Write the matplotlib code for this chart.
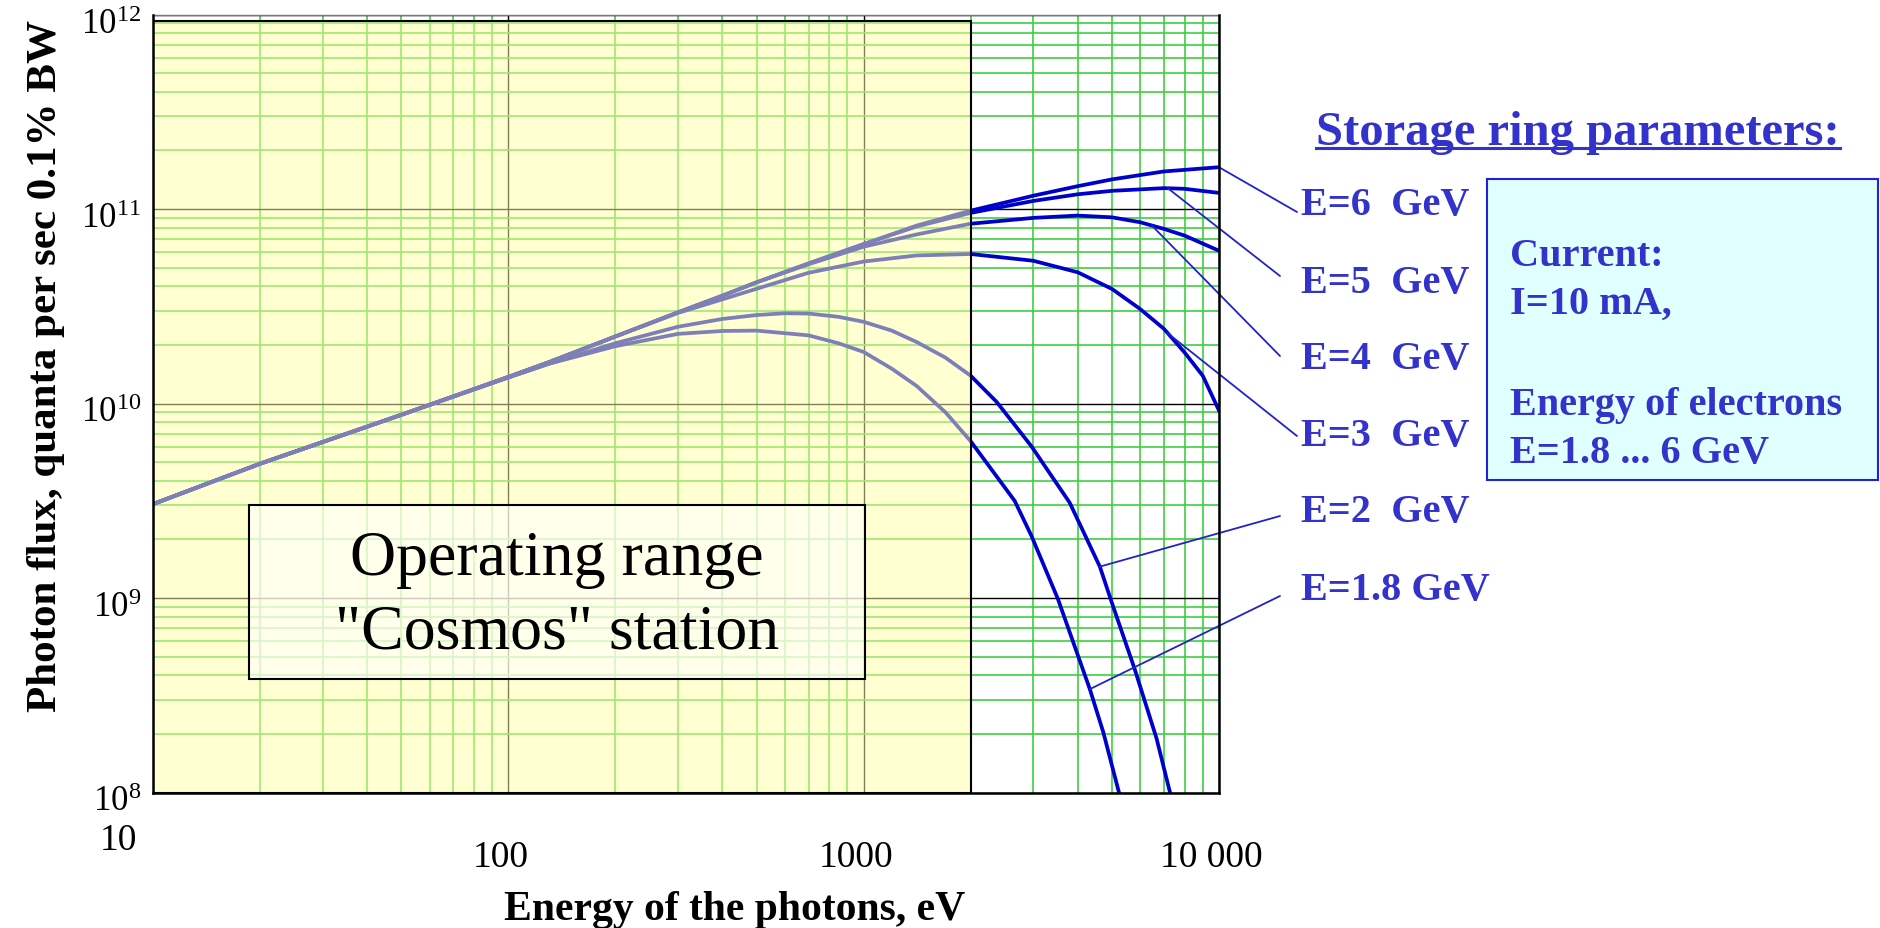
import numpy as np
import matplotlib
matplotlib.use('Agg')
import matplotlib.pyplot as plt
import matplotlib.transforms as mtransforms
from matplotlib.patches import Rectangle
from matplotlib.lines import Line2D
from matplotlib.ticker import LogLocator

plt.rcParams['font.family'] = ['Liberation Serif', 'DejaVu Serif']
plt.rcParams['mathtext.fontset'] = 'custom'
plt.rcParams['mathtext.rm'] = 'Liberation Serif'
plt.rcParams['mathtext.it'] = 'Liberation Serif:italic'
plt.rcParams['mathtext.bf'] = 'Liberation Serif:bold'

W, H = 1880, 929          # output size in pixels
CURVE_BLUE = '#0000CC'
TEXT_BLUE = '#3333CC'

# Photon energy (eV) and flux (quanta / s / 0.1% BW)
energy_6 = [10, 20, 50, 100, 130, 200, 300, 400, 500, 700, 1000, 1410, 2000, 3000, 4000, 5000, 7000, 10000]
flux_6 = [3.04e9, 4.9e9, 8.75e9, 1.37e10, 1.63e10, 2.21e10, 2.94e10, 3.58e10, 4.2e10, 5.25e10, 6.6e10,
          8.22e10, 9.8e10, 1.17e11, 1.31e11, 1.42e11, 1.56e11, 1.64e11]

energy_5 = [10, 20, 50, 100, 130, 200, 300, 400, 500, 700, 1000, 1410, 2000, 3000, 4000, 5000, 7000, 8000, 10000]
flux_5 = [3.04e9, 4.9e9, 8.75e9, 1.37e10, 1.63e10, 2.21e10, 2.94e10, 3.58e10, 4.2e10, 5.25e10, 6.6e10,
          8.13e10, 9.55e10, 1.10e11, 1.19e11, 1.24e11, 1.28e11, 1.27e11, 1.21e11]

energy_4 = [10, 20, 50, 100, 130, 200, 300, 400, 500, 700, 1000, 1410, 2000, 3000, 4000, 5000, 6000, 7000, 8000, 10000]
flux_4 = [3.04e9, 4.9e9, 8.75e9, 1.37e10, 1.63e10, 2.21e10, 2.94e10, 3.58e10, 4.2e10, 5.2e10, 6.4e10,
          7.4e10, 8.4e10, 9.0e10, 9.25e10, 9.06e10, 8.55e10, 7.9e10, 7.3e10, 6.1e10]

energy_3 = [10, 20, 50, 100, 130, 200, 300, 400, 500, 700, 1000, 1410, 2000, 3000, 4000, 5000, 6000, 7000, 8000, 9000, 10000]
flux_3 = [3.04e9, 4.9e9, 8.75e9, 1.37e10, 1.63e10, 2.21e10, 2.92e10, 3.43e10, 3.89e10, 4.7e10, 5.37e10,
          5.77e10, 5.87e10, 5.42e10, 4.73e10, 3.88e10, 3.06e10, 2.42e10, 1.83e10, 1.39e10, 9.2e9]

energy_2 = [10, 20, 50, 100, 130, 200, 300, 400, 500, 600, 700, 850, 1000, 1200, 1410, 1700, 2000,
            2366, 2965, 3800, 4620, 4990, 5800, 6670, 7280]
flux_2 = [3.04e9, 4.9e9, 8.75e9, 1.36e10, 1.6e10, 2.04e10, 2.48e10, 2.72e10, 2.85e10, 2.91e10, 2.9e10,
          2.79e10, 2.63e10, 2.37e10, 2.07e10, 1.72e10, 1.39e10,
          1.02e10, 6.03e9, 3.09e9, 1.45e9, 9.5e8, 4.27e8, 1.9e8, 1.0e8]

energy_18 = [10, 20, 50, 100, 130, 200, 300, 400, 500, 700, 850, 1000, 1200, 1410, 1700, 2000,
             2660, 2965, 3520, 4330, 4725, 5230]
flux_18 = [3.04e9, 4.9e9, 8.75e9, 1.36e10, 1.6e10, 1.97e10, 2.28e10, 2.36e10, 2.37e10, 2.24e10, 2.04e10,
           1.84e10, 1.51e10, 1.23e10, 9.0e9, 6.4e9, 3.16e9, 2.09e9, 9.9e8, 3.4e8, 2.04e8, 1.0e8]

curve_labels = ['E=6  GeV', 'E=5  GeV', 'E=4  GeV', 'E=3  GeV', 'E=2  GeV', 'E=1.8 GeV']
curve_energies = [energy_6, energy_5, energy_4, energy_3, energy_2, energy_18]
curve_fluxes = [flux_6, flux_5, flux_4, flux_3, flux_2, flux_18]
# energy on each curve where the leader line from its label starts
leader_energy = [10000, 7180, 6470, 7180, 4620, 4330]

OPERATING_RANGE = (10, 2000)   # eV, "Cosmos" station
x_ticks = [100, 1000, 10000]
x_tick_labels = ['100', '1000', '10 000']
y_ticks = [1e8, 1e9, 1e10, 1e11, 1e12]
y_tick_labels = [r'$10^{8}$', r'$10^{9}$', r'$10^{10}$', r'$10^{11}$', r'$10^{12}$']
info_lines = ['Current:', 'I=10 mA,', 'Energy of electrons', 'E=1.8 ... 6 GeV']


def fig_xy(px, py):
    # pixel position (from top-left) to figure fraction
    return px / W, 1 - py / H


def offset(dx, dy):
    # shift in pixels (x right, y up)
    return mtransforms.ScaledTranslation(dx / 100, dy / 100, fig.dpi_scale_trans)


fig = plt.figure(figsize=(W / 100, H / 100), dpi=100)
ax = fig.add_axes([153 / W, 1 - 793.5 / H, (1219 - 153) / W, (793.5 - 15.5) / H])
ax.set_xscale('log')
ax.set_yscale('log')
ax.set_xlim(10, 10000)
ax.set_ylim(1e8, 1e12)

# grid: green minor lines, black decade lines
ax.xaxis.set_minor_locator(LogLocator(base=10, subs=np.arange(2, 10)))
ax.yaxis.set_minor_locator(LogLocator(base=10, subs=np.arange(2, 10)))
ax.set_xticks(x_ticks)
ax.set_yticks(y_ticks)
ax.set_axisbelow(True)
ax.grid(which='minor', color='#3DD03D', lw=1.2)
ax.grid(which='major', color='black', lw=1.0)
ax.tick_params(which='both', length=0, labelbottom=False, labelleft=False)

for side in ['left', 'right', 'bottom']:
    ax.spines[side].set_linewidth(1.8)
    ax.spines[side].set_zorder(6)
ax.spines['top'].set_color('#777777')
ax.spines['top'].set_linewidth(1.0)

# curves
for en, fl in zip(curve_energies, curve_fluxes):
    ax.plot(en, fl, color=CURVE_BLUE, lw=2.7, zorder=2, solid_joinstyle='round')

# translucent yellow operating range drawn over grid and curves
blend_x = mtransforms.blended_transform_factory(ax.transData, ax.transAxes)
blend_y = mtransforms.blended_transform_factory(ax.transAxes, ax.transData)
ax.add_patch(Rectangle((OPERATING_RANGE[0], 0), OPERATING_RANGE[1] - OPERATING_RANGE[0], 0.992,
                       transform=blend_x, facecolor=(1, 1, 0.65, 0.5), edgecolor='black',
                       lw=1.5, zorder=3))

# "Operating range" box
ax.add_patch(Rectangle((0.090, 0.146), 0.578, 0.2235, transform=ax.transAxes,
                       facecolor=(1, 1, 1, 0.6), edgecolor='black', lw=1.5, zorder=4))
ax.text(0.379, 0.2526, 'Operating range\n"Cosmos" station', transform=ax.transAxes,
        ha='center', va='center', fontsize=46, linespacing=1.36, zorder=5)

# x tick labels (set slightly left of their grid lines, as in the original)
for t, lab in zip(x_ticks, x_tick_labels):
    ax.text(t, 0, lab, transform=blend_x + offset(-8, -74), ha='center', va='baseline', fontsize=27)
ax.text(10, 0, '10', transform=blend_x + offset(-35, -57), ha='center', va='baseline', fontsize=27)

# y tick labels, a little below their grid lines
for t, lab in zip(y_ticks, y_tick_labels):
    ax.text(0, t, lab, transform=blend_y + offset(-12, -18), ha='right', va='baseline', fontsize=25)

# axis titles
fig.text(*fig_xy(735, 920), 'Energy of the photons, eV', ha='center', va='baseline',
         fontsize=30, fontweight='bold')
fig.text(*fig_xy(46, 366), 'Photon flux, quanta per sec 0.1% BW', ha='center', va='center',
         rotation=90, fontsize=31, fontweight='bold')

# curve labels with leader lines
label_y = [205, 283, 360, 437, 513, 591]
leader_end = [(1297, 213), (1280, 277), (1280, 357), (1297, 437), (1280, 517), (1280, 597)]
for lab, ly, end, e_at, en, fl in zip(curve_labels, label_y, leader_end, leader_energy,
                                       curve_energies, curve_fluxes):
    fig.text(*fig_xy(1301, ly), lab, ha='left', va='center', fontsize=29,
             fontweight='bold', color=TEXT_BLUE)
    f_at = 10 ** np.interp(np.log10(e_at), np.log10(en), np.log10(fl))
    ax.annotate('', xy=(e_at, f_at), xycoords='data', xytext=fig_xy(*end),
                textcoords='figure fraction', annotation_clip=False,
                arrowprops=dict(arrowstyle='-', color='#2222CC', lw=1.3, shrinkA=0, shrinkB=0))

# storage ring parameters
title = fig.text(*fig_xy(1316, 133), 'Storage ring parameters:', ha='left', va='center',
                 fontsize=35, fontweight='bold', color=TEXT_BLUE)
fig.patches.append(Rectangle(fig_xy(1487, 481), (1878 - 1487) / W, (481 - 180) / H,
                             transform=fig.transFigure, facecolor='#E0FFFF',
                             edgecolor='#2020E0', lw=1.5, zorder=1))
for line, ly in zip(info_lines, [257, 304, 406, 454]):
    fig.text(*fig_xy(1510, ly), line, ha='left', va='center', fontsize=29,
             fontweight='bold', color=TEXT_BLUE, zorder=2)

# underline the title
fig.canvas.draw()
bb = title.get_window_extent().transformed(fig.transFigure.inverted())
fig.add_artist(Line2D([bb.x0, bb.x1], [1 - 149 / H] * 2, transform=fig.transFigure,
                      color=TEXT_BLUE, lw=2.2))

fig.savefig('out.png', dpi=100)
